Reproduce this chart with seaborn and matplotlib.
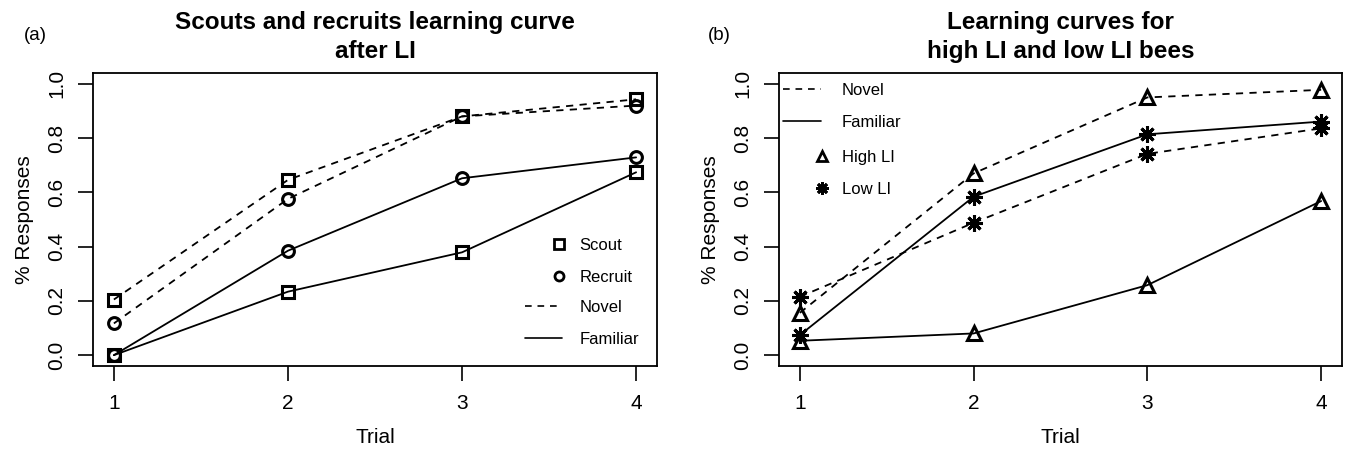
import matplotlib
matplotlib.use("Agg")
import matplotlib.pyplot as plt
from matplotlib.lines import Line2D
import seaborn as sns
import pandas as pd

trials = [1, 2, 3, 4]

# Panel (a)
scout_novel = [0.205, 0.646, 0.880, 0.943]
recruit_novel = [0.117, 0.576, 0.880, 0.920]
recruit_familiar = [0.0, 0.385, 0.652, 0.729]
scout_familiar = [0.0, 0.234, 0.379, 0.674]

# Panel (b)
high_novel = [0.156, 0.670, 0.950, 0.978]
high_familiar = [0.053, 0.080, 0.258, 0.568]
low_novel = [0.215, 0.488, 0.742, 0.836]
low_familiar = [0.074, 0.584, 0.814, 0.861]

yticks = [0.0, 0.2, 0.4, 0.6, 0.8, 1.0]
ytick_labels = ["0.0", "0.2", "0.4", "0.6", "0.8", "1.0"]

sns.set_style("white")
plt.rcParams['font.family'] = ['Liberation Sans', 'DejaVu Sans']
plt.rcParams['text.color'] = 'black'
plt.rcParams['axes.labelcolor'] = 'black'
plt.rcParams['xtick.color'] = 'black'
plt.rcParams['ytick.color'] = 'black'

W, H = 1346, 450
fig = plt.figure(figsize=(W / 100, H / 100), dpi=100)

def px_axes(l, r, t, b):
    return [l / W, 1 - b / H, (r - l) / W, (b - t) / H]

axA = fig.add_axes(px_axes(93, 657, 73, 366))
axB = fig.add_axes(px_axes(779, 1342, 73, 366))

ASTERISK = (8, 2, 0)
DASH = (0, (4, 3.5))

def draw(ax, y, ls, marker, ms):
    df = pd.DataFrame({"Trial": trials, "val": y})
    sns.lineplot(data=df, x="Trial", y="val", ax=ax, color="black",
                 linestyle=ls, linewidth=1.3, marker=marker, markersize=ms,
                 markerfacecolor="none", markeredgecolor="black",
                 markeredgewidth=2.2, legend=False)

draw(axA, scout_novel, DASH, "s", 8)
draw(axA, recruit_novel, DASH, "o", 8.5)
draw(axA, recruit_familiar, "-", "o", 8.5)
draw(axA, scout_familiar, "-", "s", 8)

draw(axB, high_novel, DASH, "^", 10)
draw(axB, high_familiar, "-", "^", 10)
draw(axB, low_novel, DASH, ASTERISK, 12)
draw(axB, low_familiar, "-", ASTERISK, 12)

for ax in (axA, axB):
    ax.set_xlim(0.88, 4.12)
    ax.set_ylim(-0.04, 1.04)
    ax.set_xticks(trials)
    ax.set_xticklabels([str(t) for t in trials], fontsize=15)
    ax.set_yticks(yticks)
    ax.set_yticklabels(ytick_labels, fontsize=15, rotation=90, va="center")
    ax.tick_params(axis="both", direction="out", length=11, width=1.2,
                   color="black", bottom=True, left=True)
    ax.tick_params(axis="x", pad=9)
    ax.tick_params(axis="y", pad=8)
    for s in ax.spines.values():
        s.set_color("black")
        s.set_linewidth(1.3)
        s.set_visible(True)
    ax.set_xlabel("Trial", fontsize=15, labelpad=11)
    ax.set_ylabel("% Responses", fontsize=15, labelpad=10)
    ax.grid(False)

axA.set_title("Scouts and recruits learning curve\nafter LI", fontsize=17.5,
              fontweight="bold", pad=11, linespacing=1.3)
axB.set_title("Learning curves for\nhigh LI and low LI bees", fontsize=17.5,
              fontweight="bold", pad=11, linespacing=1.3)

fig.text(35 / W, 1 - 35 / H, "(a)", fontsize=13.5, ha="center", va="center")
fig.text(719 / W, 1 - 35 / H, "(b)", fontsize=13.5, ha="center", va="center")

def mk(marker, ms):
    return Line2D([], [], color="black", linestyle="none", marker=marker,
                  markersize=ms, markerfacecolor="none",
                  markeredgewidth=2.0, markeredgecolor="black")

def ln(ls):
    return Line2D([], [], color="black", linestyle=ls, linewidth=1.2)

common = dict(frameon=False, fontsize=12, borderpad=0, borderaxespad=0,
              loc="upper left")

legA1 = axA.legend([mk("s", 6.5), mk("o", 6.5)], ["Scout", "Recruit"],
                   bbox_to_anchor=(0.812, 0.437), handlelength=1.0,
                   handletextpad=0.7, labelspacing=1.0, **common)
axA.add_artist(legA1)
legA2 = axA.legend([ln(DASH), ln("-")], ["Novel", "Familiar"],
                   bbox_to_anchor=(0.766, 0.225), handlelength=2.2,
                   handletextpad=1.1, labelspacing=1.0, **common)

legB1 = axB.legend([ln(DASH), ln("-")], ["Novel", "Familiar"],
                   bbox_to_anchor=(0.0071, 0.965), handlelength=2.3,
                   handletextpad=1.2, labelspacing=1.0, **common)
axB.add_artist(legB1)
legB2 = axB.legend([mk("^", 7.5), mk(ASTERISK, 9)], ["High LI", "Low LI"],
                   bbox_to_anchor=(0.062, 0.737), handlelength=1.0,
                   handletextpad=0.7, labelspacing=1.0, **common)

fig.savefig("out.png", dpi=100)
